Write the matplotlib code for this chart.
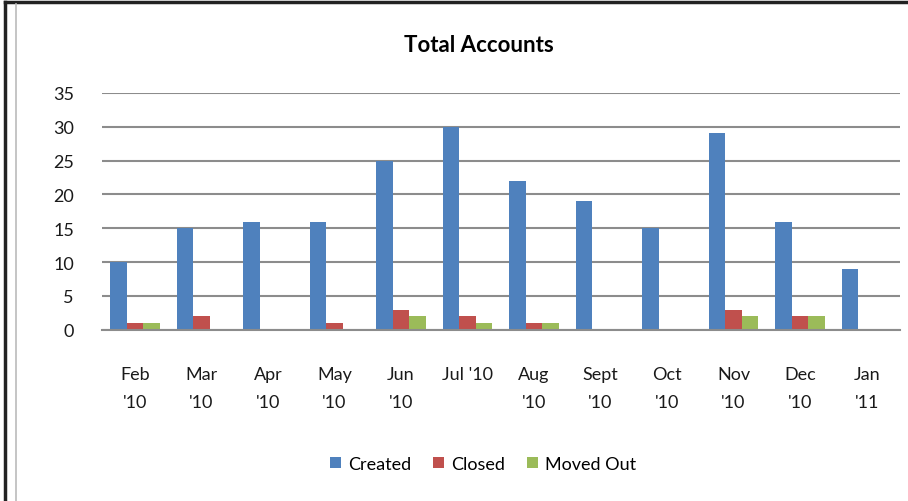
import matplotlib.pyplot as plt
import numpy as np
from matplotlib.lines import Line2D

plt.rcParams["font.family"] = ["Lato", "DejaVu Sans"]

months = ["Feb\n'10", "Mar\n'10", "Apr\n'10", "May\n'10", "Jun\n'10", "Jul '10",
          "Aug\n'10", "Sept\n'10", "Oct\n'10", "Nov\n'10", "Dec\n'10", "Jan\n'11"]
created = [10, 15, 16, 16, 25, 30, 22, 19, 15, 29, 16, 9]
closed = [1, 2, 0, 1, 3, 2, 1, 0, 0, 3, 2, 0]
moved_out = [1, 0, 0, 0, 2, 1, 1, 0, 0, 2, 2, 0]

fig = plt.figure(figsize=(9.08, 5.02), dpi=100)
ax = fig.add_axes([0.112, 0.341, 0.879, 0.472])

x = np.arange(len(months))
w = 0.25
ax.bar(x - w, created, w, color="#4F81BD", label="Created")
ax.bar(x, closed, w, color="#C0504D", label="Closed")
ax.bar(x + w, moved_out, w, color="#9BBB59", label="Moved Out")

ax.set_xlim(-0.5, len(months) - 0.5)
ax.set_ylim(0, 35)
ax.set_yticks(range(0, 36, 5))
ax.set_xticks(x)
ax.set_xticklabels(months, linespacing=1.9, va="top")
ax.tick_params(axis="both", length=0, labelsize=13, labelcolor="#1a1a1a")
ax.tick_params(axis="x", pad=26)
ax.tick_params(axis="y", pad=20)
ax.grid(axis="y", color="#8c8c8c", linewidth=1.5)
ax.set_axisbelow(True)
for s in ["top", "right", "left"]:
    ax.spines[s].set_visible(False)
ax.spines["bottom"].set_color("#8c8c8c")
ax.spines["bottom"].set_linewidth(1.5)

fig.text(0.527, 0.91, "Total Accounts", ha="center", va="center",
         fontsize=16, fontweight="bold")

fig.legend(loc="center", bbox_to_anchor=(0.532, 0.074), ncol=3, frameon=False,
           fontsize=13, handlelength=0.6, handleheight=0.6, handletextpad=0.4,
           columnspacing=1.2)

# outer frame
fig.add_artist(Line2D([0.005, 1.0], [0.994, 0.994], color="#222222", lw=2.5))
fig.add_artist(Line2D([0.006, 0.006], [0.0, 0.994], color="#222222", lw=2.5))
fig.add_artist(Line2D([0.018, 0.018], [0.0, 0.99], color="#bbbbbb", lw=1.2))

fig.savefig("out.png", dpi=100)
